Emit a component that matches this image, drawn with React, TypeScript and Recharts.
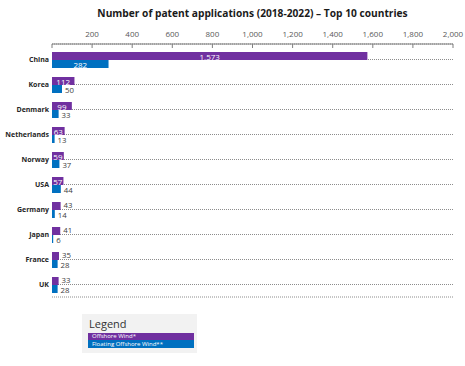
import React from 'react';
import { BarChart, Bar, XAxis, YAxis, CartesianGrid, LabelList } from 'recharts';

const categories = ['China', 'Korea', 'Denmark', 'Netherlands', 'Norway', 'USA', 'Germany', 'Japan', 'France', 'UK'];
const offshoreWind = [1573, 112, 99, 63, 59, 57, 43, 41, 35, 33];
const floatingOffshoreWind = [282, 50, 33, 13, 37, 44, 14, 6, 28, 28];
const xTicks = [0, 200, 400, 600, 800, 1000, 1200, 1400, 1600, 1800, 2000];
const seriesNames = ['Offshore Wind*', 'Floating Offshore Wind**'];

const data = categories.map((name, i) => ({
  name,
  offshore: offshoreWind[i],
  floating: floatingOffshoreWind[i],
}));

const PURPLE = '#7030a0';
const BLUE = '#0070c0';
const FONT = '"Open Sans", "Noto Sans", sans-serif';

const makeValueLabel = (dy: number) => (props: any) => {
  const { x, y, width, height, value } = props;
  const text = Number(value).toLocaleString('en-US');
  const tw = text.length * 5.3;
  if (width >= tw) {
    return (
      <text x={x + width / 2} y={y + height / 2} textAnchor="middle" dominantBaseline="central" fill="#ffffff" fontSize={8} fontFamily={FONT}>
        {text}
      </text>
    );
  }
  return (
    <text x={x + width + 3} y={y + height / 2 + dy} textAnchor="start" dominantBaseline="central" fill="#404040" fontSize={7.8} fontFamily={FONT}>
      {text}
    </text>
  );
};

const offshoreLabel = makeValueLabel(-1);
const floatingLabel = makeValueLabel(1);

export default function App() {
  return (
    <div style={{ position: 'absolute', left: 0, top: 0, width: 465, height: 366, background: '#ffffff', fontFamily: FONT }}>
      <div
        style={{
          position: 'absolute',
          left: 0,
          width: 505,
          top: 6,
          textAlign: 'center',
          fontSize: 10.2,
          fontWeight: 700,
          color: '#1a1a1a',
          whiteSpace: 'nowrap',
        }}
      >
        Number of patent applications (2018-2022) – Top 10 countries
      </div>
      <div style={{ position: 'absolute', left: 0, top: 0 }}>
        <BarChart
          width={465}
          height={366}
          data={data}
          layout="vertical"
          margin={{ top: 0, right: 12, bottom: 69, left: 0 }}
          barSize={8}
          barGap={0}
        >
          <CartesianGrid horizontal vertical={false} stroke="#8c8c8c" strokeDasharray="1 1" />
          <XAxis
            type="number"
            orientation="top"
            domain={[0, 2000]}
            ticks={xTicks}
            interval={0}
            height={44}
            tickFormatter={(v: number) => (v === 0 ? '' : v.toLocaleString('en-US'))}
            axisLine={{ stroke: '#7f7f7f' }}
            tickLine={{ stroke: '#7f7f7f' }}
            tickSize={-4}
            tickMargin={11}
            tick={{ fontSize: 8, fill: '#595959', fontFamily: FONT }}
          />
          <YAxis
            type="category"
            dataKey="name"
            width={52}
            axisLine={false}
            tickLine={false}
            tickSize={0}
            tickMargin={3}
            padding={{ top: 3, bottom: 0 }}
            tick={{ fontSize: 7, fontWeight: 700, fill: '#262626', fontFamily: FONT }}
          />
          <Bar dataKey="offshore" name={seriesNames[0]} fill={PURPLE} isAnimationActive={false}>
            <LabelList dataKey="offshore" content={offshoreLabel} />
          </Bar>
          <Bar dataKey="floating" name={seriesNames[1]} fill={BLUE} isAnimationActive={false}>
            <LabelList dataKey="floating" content={floatingLabel} />
          </Bar>
        </BarChart>
      </div>
      <div
        style={{
          position: 'absolute',
          left: 82,
          top: 314,
          width: 115,
          height: 39,
          background: '#f2f2f2',
        }}
      >
        <div style={{ position: 'absolute', left: 7, top: 3, fontSize: 11, color: '#333333', lineHeight: '14px' }}>Legend</div>
        <div
          style={{
            position: 'absolute',
            left: 6,
            top: 19,
            width: 106,
            height: 7,
            background: PURPLE,
            color: '#ffffff',
            fontSize: 6,
            lineHeight: '7px',
            paddingLeft: 4,
            boxSizing: 'border-box',
            overflow: 'hidden',
            whiteSpace: 'nowrap',
          }}
        >
          {seriesNames[0]}
        </div>
        <div
          style={{
            position: 'absolute',
            left: 6,
            top: 26,
            width: 106,
            height: 8,
            background: BLUE,
            color: '#ffffff',
            fontSize: 6,
            lineHeight: '8px',
            paddingLeft: 4,
            boxSizing: 'border-box',
            overflow: 'hidden',
            whiteSpace: 'nowrap',
          }}
        >
          {seriesNames[1]}
        </div>
      </div>
    </div>
  );
}
